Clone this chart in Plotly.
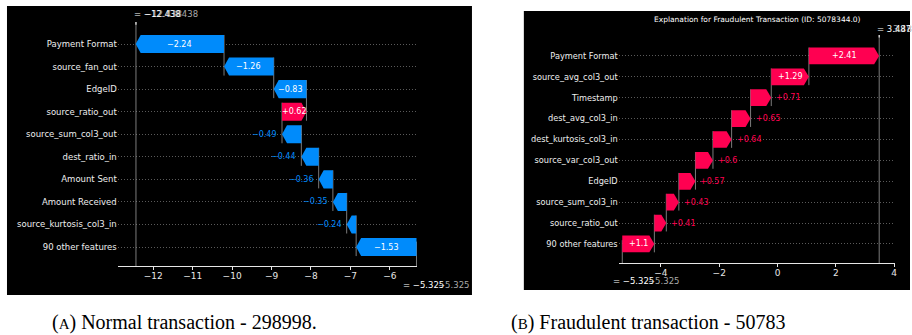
import plotly.graph_objects as go

# ---------------- data ----------------
features_a = ["Payment Format", "source_fan_out", "EdgeID", "source_ratio_out",
              "source_sum_col3_out", "dest_ratio_in", "Amount Sent", "Amount Received",
              "source_kurtosis_col3_in", "90 other features"]
values_a = [-2.24, -1.26, -0.83, 0.62, -0.49, -0.44, -0.36, -0.35, -0.24, -1.53]
base_a = -5.325
fx_a = -12.438
xticks_a = [-12, -11, -10, -9, -8, -7, -6]

features_b = ["Payment Format", "source_avg_col3_out", "Timestamp", "dest_avg_col3_in",
              "dest_kurtosis_col3_in", "source_var_col3_out", "EdgeID", "source_sum_col3_in",
              "source_ratio_out", "90 other features"]
values_b = [2.41, 1.29, 0.71, 0.65, 0.64, 0.60, 0.57, 0.43, 0.41, 1.10]
base_b = -5.325
fx_b = 3.487
xticks_b = [-4, -2, 0, 2, 4]

title_b = "Explanation for Fraudulent Transaction (ID: 5078344.0)"
caption_a = "(<span style='font-size:15px'>A</span>) Normal transaction - 298998."
caption_b = "(<span style='font-size:15px'>B</span>) Fraudulent transaction - 50783"

# ---------------- style ----------------
W, H = 912, 335
BLUE = "#008bfb"
RED = "#ff0051"
GRAY = "#9a9a9a"
FONT = "DejaVu Sans"


def px(x):
    return x / W


def py(y):
    return 1 - y / H


def fmt(v):
    s = f"{v:+.2f}".rstrip("0").rstrip(".")
    return s.replace("-", "\u2212")


fig = go.Figure()

# panel backgrounds
fig.add_shape(type="rect", xref="paper", yref="paper", x0=px(7), x1=px(473),
              y0=py(295), y1=py(6), fillcolor="black", line_width=0, layer="below")
fig.add_shape(type="rect", xref="paper", yref="paper", x0=px(525), x1=px(912),
              y0=py(290), y1=py(11), fillcolor="black", line_width=0, layer="below")

panels = [
    dict(feat=features_a, vals=values_a, base=base_a, fx=fx_a, ticks=xticks_a,
         xdom=(118, 418), xr=(-12.9, -5.31), ydom=(22, 266), yr=(-0.84, 9.975),
         xa="x", ya="y", lab=8.5),
    dict(feat=features_b, vals=values_b, base=base_b, fx=fx_b, ticks=xticks_b,
         xdom=(620, 897), xr=(-5.45, 4.03), ydom=(35, 263), yr=(-0.91, 10.0),
         xa="x2", ya="y2", lab=8.2),
]

annotations = []
for idx, p in enumerate(panels):
    n = len(p["feat"])
    ppu = (p["xdom"][1] - p["xdom"][0]) / (p["xr"][1] - p["xr"][0])
    hl = 5.0 / ppu
    vals_bottom = list(reversed(p["vals"]))
    starts, ends = [], []
    cur = p["base"]
    for v in vals_bottom:
        starts.append(cur)
        cur += v
        ends.append(cur)
    y0r, y1r = p["yr"]
    fig.add_trace(go.Scatter(x=[p["fx"], p["fx"]], y=[y0r, y1r], mode="lines",
                             line=dict(color=GRAY, width=0.8), xaxis=p["xa"], yaxis=p["ya"],
                             hoverinfo="skip", showlegend=False))
    fig.add_trace(go.Scatter(x=[p["fx"], p["fx"]], y=[y1r - 0.12, y1r], mode="lines",
                             line=dict(color="#e6e6e6", width=1.2), xaxis=p["xa"], yaxis=p["ya"],
                             hoverinfo="skip", showlegend=False))
    fig.add_trace(go.Scatter(x=[p["base"], p["base"]], y=[y0r, y0r + (y1r - y0r) / n],
                             mode="lines", line=dict(color=GRAY, width=0.8),
                             xaxis=p["xa"], yaxis=p["ya"], hoverinfo="skip", showlegend=False))
    for k in range(n - 1):
        fig.add_trace(go.Scatter(x=[ends[k], ends[k]], y=[k - 0.4, k + 1.4], mode="lines",
                                 line=dict(color=GRAY, width=0.8), xaxis=p["xa"], yaxis=p["ya"],
                                 hoverinfo="skip", showlegend=False))
    for k, v in enumerate(vals_bottom):
        s, e = starts[k], ends[k]
        h = min(abs(v), hl)
        sign = 1 if v > 0 else -1
        neck = e - sign * h
        xs = [s, neck, e, neck, s, s]
        ys = [k - 0.4, k - 0.4, k, k + 0.4, k + 0.4, k - 0.4]
        col = RED if v > 0 else BLUE
        fig.add_trace(go.Scatter(x=xs, y=ys, mode="lines", fill="toself", fillcolor=col,
                                 line=dict(width=0, color=col), xaxis=p["xa"], yaxis=p["ya"],
                                 hoverinfo="skip", showlegend=False))
        txt = fmt(v)
        wpx = abs(v) * ppu
        if wpx > len(txt) * 4.8:
            annotations.append(dict(x=(s + e) / 2, y=k, xref=p["xa"], yref=p["ya"], text=txt,
                                    showarrow=False, font=dict(family=FONT, size=8, color="white"),
                                    xanchor="center", yanchor="middle"))
        else:
            annotations.append(dict(x=e, y=k, xref=p["xa"], yref=p["ya"], text=txt,
                                    showarrow=False, font=dict(family=FONT, size=8, color=col),
                                    xanchor="left" if v > 0 else "right", yanchor="middle",
                                    xshift=3 * sign))
    ax = dict(domain=[px(p["xdom"][0]), px(p["xdom"][1])], range=list(p["xr"]),
              showline=True, linecolor="#e6e6e6", linewidth=1, ticks="outside", ticklen=3,
              tickcolor="#e6e6e6", tickvals=p["ticks"], showgrid=False, zeroline=False,
              tickfont=dict(family=FONT, size=9, color="#e6e6e6"), anchor=p["ya"],
              ticklabelstandoff=-2)
    ay = dict(domain=[py(p["ydom"][1]), py(p["ydom"][0])], range=list(p["yr"]),
              tickvals=list(range(n)), ticktext=list(reversed(p["feat"])),
              showgrid=True, gridcolor="#5a5a5a", griddash="1px,2px", gridwidth=0.6,
              zeroline=False, showline=False, ticks="", anchor=p["xa"],
              tickfont=dict(family=FONT, size=p["lab"], color="#eeeeee"))
    sfx = "" if idx == 0 else "2"
    fig.update_layout(**{"xaxis" + sfx: ax, "yaxis" + sfx: ay})


def txt(x, y, s, color, size=8.5, anchor="left"):
    annotations.append(dict(x=px(x), y=py(y), xref="paper", yref="paper", text=s,
                            showarrow=False, xanchor=anchor, yanchor="middle",
                            font=dict(family=FONT, size=size, color=color)))


txt(143, 14, "\u221212.438438", "#aaaaaa")
txt(132, 14, "= \u221212.438", "white")
txt(437, 285, "\u22125.325", "#aaaaaa")
txt(402, 285, "= \u22125.325", "white")
txt(647, 281, "\u22125.325", "#aaaaaa")
txt(612, 281, "= \u22125.325", "white")
txt(893, 29, "3.487487", "#aaaaaa")
txt(877, 29, "= 3.487", "white")
txt(759, 19, title_b, "white", size=7.5, anchor="center")

annotations.append(dict(x=px(50), y=py(322), xref="paper", yref="paper", text=caption_a,
                        showarrow=False, xanchor="left", yanchor="middle",
                        font=dict(family="Liberation Serif", size=20, color="black")))
annotations.append(dict(x=px(510), y=py(322), xref="paper", yref="paper", text=caption_b,
                        showarrow=False, xanchor="left", yanchor="middle",
                        font=dict(family="Liberation Serif", size=20, color="black")))

fig.update_layout(width=W, height=H, margin=dict(l=0, r=0, t=0, b=0),
                  paper_bgcolor="white", plot_bgcolor="black",
                  annotations=annotations, showlegend=False)

fig.write_html("out.html", config={"displayModeBar": False},
               post_script="document.body.style.margin='0px';document.body.style.overflow='hidden';")
